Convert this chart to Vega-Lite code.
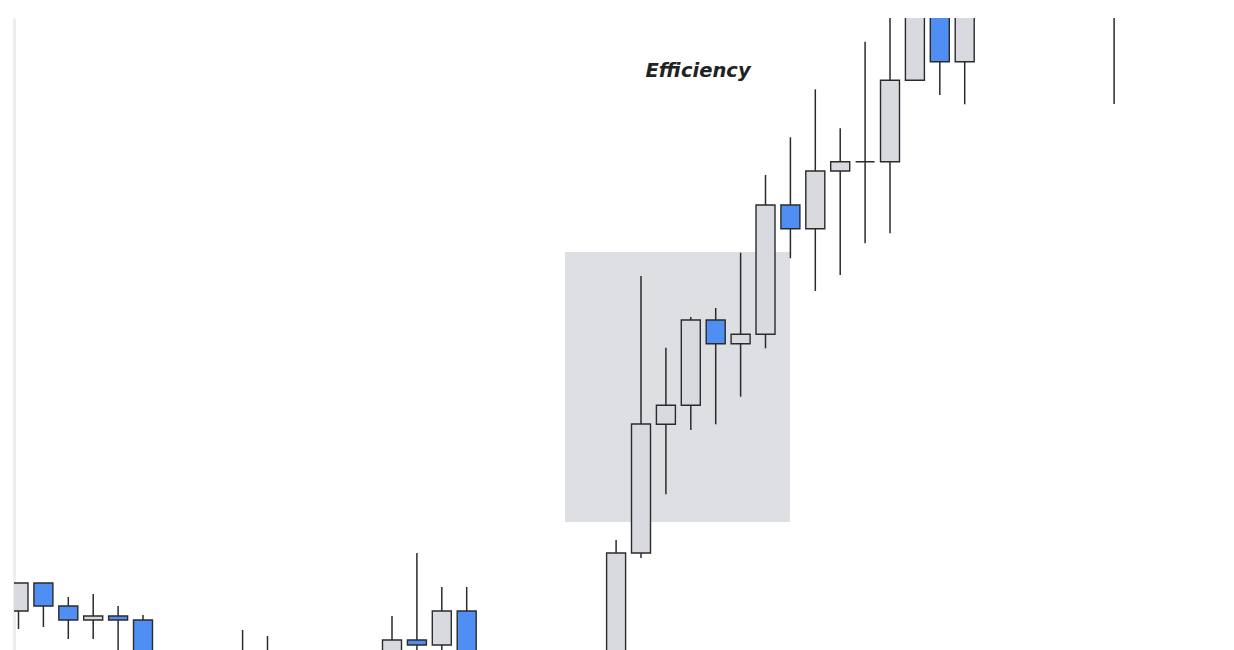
{
  "$schema": "https://vega.github.io/schema/vega-lite/v6.json",
  "width": 1220,
  "height": 632,
  "autosize": {"type": "none"},
  "padding": {"left": 14, "top": 18, "right": 0, "bottom": 0},
  "background": "white",
  "config": {"view": {"stroke": null}},
  "datasets": {
    "candles": [
      {"i": 0, "open": 39, "high": 67, "low": 21, "close": 67},
      {"i": 1, "open": 67, "high": 67, "low": 23, "close": 44},
      {"i": 2, "open": 44, "high": 53, "low": 11, "close": 30},
      {"i": 3, "open": 30, "high": 56, "low": 11, "close": 34},
      {"i": 4, "open": 34, "high": 44, "low": -30, "close": 30},
      {"i": 5, "open": 30, "high": 35, "low": -70, "close": -40},
      {"i": 6, "open": -40, "high": -35, "low": -80, "close": -60},
      {"i": 7, "open": -60, "high": -45, "low": -90, "close": -50},
      {"i": 8, "open": -50, "high": -35, "low": -70, "close": -40},
      {"i": 9, "open": -40, "high": 20, "low": -55, "close": -5},
      {"i": 10, "open": -5, "high": 14, "low": -45, "close": -25},
      {"i": 11, "open": -25, "high": -15, "low": -60, "close": -45},
      {"i": 12, "open": -45, "high": -20, "low": -65, "close": -30},
      {"i": 13, "open": -30, "high": -10, "low": -40, "close": -20},
      {"i": 14, "open": -20, "high": -3, "low": -30, "close": -8},
      {"i": 15, "open": -10, "high": 34, "low": -25, "close": 10},
      {"i": 16, "open": 10, "high": 97, "low": -20, "close": 5},
      {"i": 17, "open": 5, "high": 63, "low": -10, "close": 39},
      {"i": 18, "open": 39, "high": 63, "low": -40, "close": -20},
      {"i": 19, "open": -20, "high": -10, "low": -55, "close": -40},
      {"i": 20, "open": -40, "high": -25, "low": -60, "close": -30},
      {"i": 21, "open": -30, "high": -20, "low": -55, "close": -45},
      {"i": 22, "open": -45, "high": -15, "low": -60, "close": -20},
      {"i": 23, "open": -20, "high": 0, "low": -30, "close": -5},
      {"i": 24, "open": -10, "high": 110, "low": -20, "close": 97},
      {"i": 25, "open": 97, "high": 374, "low": 92, "close": 226},
      {"i": 26, "open": 225.7, "high": 302.3, "low": 155.7, "close": 244.7},
      {"i": 27, "open": 244.7, "high": 333, "low": 220, "close": 330},
      {"i": 28, "open": 330, "high": 342, "low": 225.7, "close": 306.3},
      {"i": 29, "open": 306.3, "high": 397.3, "low": 253.3, "close": 315.7},
      {"i": 30, "open": 315.7, "high": 475, "low": 301.7, "close": 445},
      {"i": 31, "open": 445, "high": 512.7, "low": 391.7, "close": 421.3},
      {"i": 32, "open": 421.3, "high": 560.7, "low": 359, "close": 479},
      {"i": 33, "open": 479, "high": 521.7, "low": 375, "close": 488.3},
      {"i": 34, "open": 488.3, "high": 608.3, "low": 406.7, "close": 488.3},
      {"i": 35, "open": 488.3, "high": 660, "low": 416.7, "close": 569.7},
      {"i": 36, "open": 569.7, "high": 700, "low": 569.7, "close": 680},
      {"i": 37, "open": 690, "high": 720, "low": 555, "close": 588.3},
      {"i": 38, "open": 588.3, "high": 730, "low": 545.7, "close": 700},
      {"i": 39, "open": 700, "high": 760, "low": 680, "close": 740},
      {"i": 40, "open": 740, "high": 770, "low": 700, "close": 720},
      {"i": 41, "open": 720, "high": 780, "low": 710, "close": 760},
      {"i": 42, "open": 760, "high": 775, "low": 700, "close": 730},
      {"i": 43, "open": 730, "high": 745, "low": 660, "close": 690},
      {"i": 44, "open": 690, "high": 700, "low": 546, "close": 655}
    ],
    "zone": [{"x1": 21.95, "x2": 30.98, "y1": 128, "y2": 398}],
    "label": [{"i": 27.29, "p": 572.7, "text": "Efficiency"}]
  },
  "layer": [
    {
      "data": {"name": "zone"},
      "mark": {"type": "rect", "fill": "#dedfe3", "clip": true},
      "encoding": {
        "x": {"field": "x1", "type": "quantitative", "scale": {"domain": [-0.1807, 48.815], "zero": false, "nice": false, "padding": 0}, "axis": null},
        "x2": {"field": "x2"},
        "y": {"field": "y1", "type": "quantitative", "scale": {"domain": [0, 632], "zero": false, "nice": false, "padding": 0},
              "axis": {"labels": false, "ticks": false, "grid": false, "title": null, "domainColor": "#eeeeee", "domainWidth": 3, "maxExtent": 0, "minExtent": 0}},
        "y2": {"field": "y2"}
      }
    },
    {
      "data": {"name": "candles"},
      "mark": {"type": "rule", "color": "#2b2b2b", "strokeWidth": 1.5, "clip": true},
      "encoding": {
        "x": {"field": "i", "type": "quantitative"},
        "y": {"field": "low", "type": "quantitative"},
        "y2": {"field": "high"}
      }
    },
    {
      "data": {"name": "candles"},
      "transform": [{"calculate": "datum.close < datum.open ? 'down' : 'up'", "as": "dir"}],
      "mark": {"type": "bar", "size": 19, "stroke": "#2b2b2b", "strokeWidth": 1.4, "clip": true},
      "encoding": {
        "x": {"field": "i", "type": "quantitative"},
        "y": {"field": "open", "type": "quantitative"},
        "y2": {"field": "close"},
        "fill": {"field": "dir", "type": "nominal", "scale": {"domain": ["up", "down"], "range": ["#d9dadf", "#4f8ef2"]}, "legend": null}
      }
    },
    {
      "data": {"name": "label"},
      "mark": {"type": "text", "font": "DejaVu Sans", "fontStyle": "italic", "fontWeight": "bold", "fontSize": 19.5, "color": "#222222", "align": "center", "baseline": "alphabetic"},
      "encoding": {
        "x": {"field": "i", "type": "quantitative"},
        "y": {"field": "p", "type": "quantitative"},
        "text": {"field": "text"}
      }
    }
  ]
}
